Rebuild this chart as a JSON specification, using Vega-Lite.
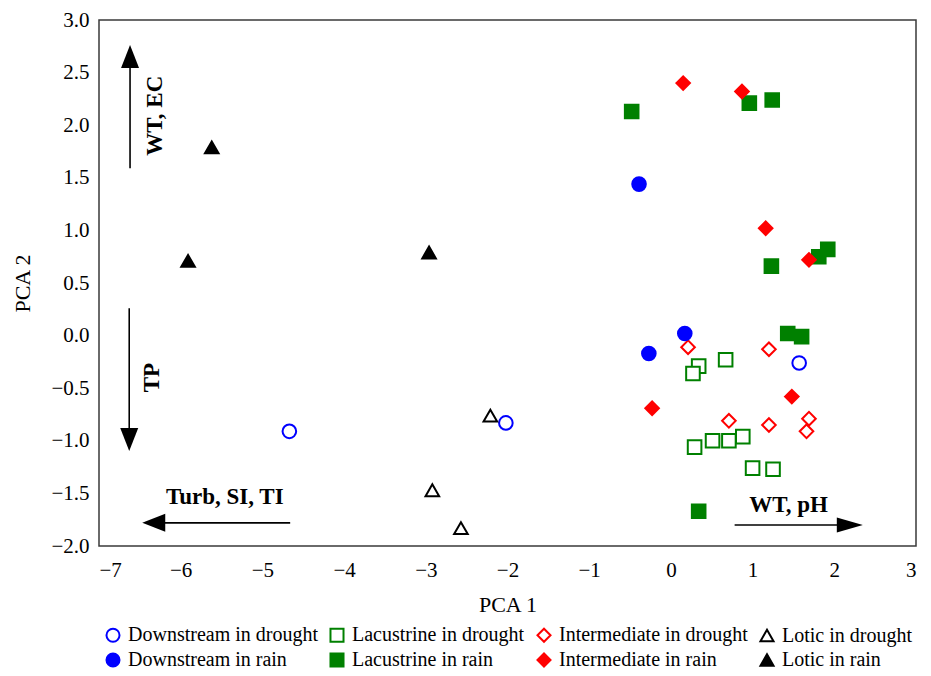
{
  "$schema": "https://vega.github.io/schema/vega-lite/v6.json",
  "width": 817,
  "height": 526,
  "autosize": {"type": "none"},
  "padding": {"left": 99, "top": 20, "right": 15, "bottom": 130},
  "background": "white",
  "config": {
    "font": "Liberation Serif",
    "view": {"stroke": "#3a3a3a", "strokeWidth": 1.5},
    "axis": {"grid": false, "ticks": false, "domain": false, "labelFont": "Liberation Serif", "labelFontSize": 21, "labelColor": "black", "titleFont": "Liberation Serif", "titleFontSize": 22, "titleFontWeight": "normal", "titleColor": "black"},
    "legend": {"orient": "bottom", "columns": 4, "labelFont": "Liberation Serif", "labelFontSize": 20, "labelColor": "black", "symbolSize": 170, "symbolStrokeWidth": 2, "columnPadding": 8, "rowPadding": 3, "labelOffset": 5, "offset": 10, "symbolOpacity": 1, "labelLimit": 400, "layout": {"bottom": {"anchor": "middle"}}}
  },
  "datasets": {
    "pts": [
      {"pc1": 1.57, "pc2": -0.26, "group": "Downstream in drought"},
      {"pc1": -4.67, "pc2": -0.91, "group": "Downstream in drought"},
      {"pc1": -2.02, "pc2": -0.83, "group": "Downstream in drought"},
      {"pc1": 0.34, "pc2": -0.29, "group": "Lacustrine in drought"},
      {"pc1": 0.27, "pc2": -0.36, "group": "Lacustrine in drought"},
      {"pc1": 0.67, "pc2": -0.23, "group": "Lacustrine in drought"},
      {"pc1": 0.29, "pc2": -1.06, "group": "Lacustrine in drought"},
      {"pc1": 0.51, "pc2": -1.00, "group": "Lacustrine in drought"},
      {"pc1": 0.71, "pc2": -1.00, "group": "Lacustrine in drought"},
      {"pc1": 0.88, "pc2": -0.96, "group": "Lacustrine in drought"},
      {"pc1": 1.00, "pc2": -1.26, "group": "Lacustrine in drought"},
      {"pc1": 1.25, "pc2": -1.27, "group": "Lacustrine in drought"},
      {"pc1": 0.21, "pc2": -0.11, "group": "Intermediate in drought"},
      {"pc1": 1.20, "pc2": -0.13, "group": "Intermediate in drought"},
      {"pc1": 0.71, "pc2": -0.81, "group": "Intermediate in drought"},
      {"pc1": 1.20, "pc2": -0.85, "group": "Intermediate in drought"},
      {"pc1": 1.69, "pc2": -0.79, "group": "Intermediate in drought"},
      {"pc1": 1.66, "pc2": -0.91, "group": "Intermediate in drought"},
      {"pc1": -2.21, "pc2": -0.76, "group": "Lotic in drought"},
      {"pc1": -2.92, "pc2": -1.47, "group": "Lotic in drought"},
      {"pc1": -2.57, "pc2": -1.83, "group": "Lotic in drought"},
      {"pc1": -0.39, "pc2": 1.44, "group": "Downstream in rain"},
      {"pc1": 0.17, "pc2": 0.02, "group": "Downstream in rain"},
      {"pc1": -0.27, "pc2": -0.17, "group": "Downstream in rain"},
      {"pc1": 0.96, "pc2": 2.21, "group": "Lacustrine in rain"},
      {"pc1": 1.24, "pc2": 2.24, "group": "Lacustrine in rain"},
      {"pc1": -0.48, "pc2": 2.13, "group": "Lacustrine in rain"},
      {"pc1": 1.23, "pc2": 0.66, "group": "Lacustrine in rain"},
      {"pc1": 1.81, "pc2": 0.75, "group": "Lacustrine in rain"},
      {"pc1": 1.92, "pc2": 0.82, "group": "Lacustrine in rain"},
      {"pc1": 1.43, "pc2": 0.02, "group": "Lacustrine in rain"},
      {"pc1": 1.60, "pc2": -0.01, "group": "Lacustrine in rain"},
      {"pc1": 0.34, "pc2": -1.67, "group": "Lacustrine in rain"},
      {"pc1": 0.15, "pc2": 2.40, "group": "Intermediate in rain"},
      {"pc1": 0.87, "pc2": 2.32, "group": "Intermediate in rain"},
      {"pc1": 1.16, "pc2": 1.02, "group": "Intermediate in rain"},
      {"pc1": 1.69, "pc2": 0.72, "group": "Intermediate in rain"},
      {"pc1": 1.48, "pc2": -0.58, "group": "Intermediate in rain"},
      {"pc1": -0.23, "pc2": -0.69, "group": "Intermediate in rain"},
      {"pc1": -5.62, "pc2": 1.79, "group": "Lotic in rain"},
      {"pc1": -5.91, "pc2": 0.71, "group": "Lotic in rain"},
      {"pc1": -2.96, "pc2": 0.79, "group": "Lotic in rain"}
    ],
    "ann": [
      {"label": "WT, EC", "dir": "up", "orient": "v", "x1": -6.62, "y1": 1.59, "x2": -6.62, "y2": 2.60, "hx": -6.62, "hy": 2.653, "tx": -6.31, "ty": 2.09},
      {"label": "TP", "dir": "down", "orient": "v", "x1": -6.63, "y1": 0.26, "x2": -6.63, "y2": -0.90, "hx": -6.63, "hy": -0.988, "tx": -6.35, "ty": -0.40},
      {"label": "Turb, SI, TI", "dir": "left", "orient": "h", "x1": -4.66, "y1": -1.78, "x2": -6.40, "y2": -1.78, "hx": -6.33, "hy": -1.78, "tx": -5.46, "ty": -1.53},
      {"label": "WT, pH", "dir": "right", "orient": "h", "x1": 0.78, "y1": -1.80, "x2": 2.10, "y2": -1.80, "hx": 2.19, "hy": -1.80, "tx": 1.44, "ty": -1.61}
    ]
  },
  "layer": [
    {
      "data": {"name": "pts"},
      "mark": {"type": "point", "strokeWidth": 2, "size": 185, "opacity": 1},
      "encoding": {
        "x": {"field": "pc1", "type": "quantitative", "scale": {"domain": [-7, 3], "nice": false, "zero": false}, "axis": {"values": [-7, -6, -5, -4, -3, -2, -1, 0, 1, 2, 3], "format": "d", "title": "PCA 1", "labelPadding": 13, "titlePadding": 14}},
        "y": {"field": "pc2", "type": "quantitative", "scale": {"domain": [-2, 3], "nice": false, "zero": false}, "axis": {"values": [-2, -1.5, -1, -0.5, 0, 0.5, 1, 1.5, 2, 2.5, 3], "format": ".1f", "title": "PCA 2", "labelPadding": 10, "titlePadding": 16}},
        "shape": {"field": "group", "type": "nominal", "scale": {"domain": ["Downstream in drought", "Lacustrine in drought", "Intermediate in drought", "Lotic in drought", "Downstream in rain", "Lacustrine in rain", "Intermediate in rain", "Lotic in rain"], "range": ["circle", "square", "diamond", "triangle-up", "circle", "square", "diamond", "triangle-up"]}, "legend": {"title": null}},
        "stroke": {"field": "group", "type": "nominal", "scale": {"domain": ["Downstream in drought", "Lacustrine in drought", "Intermediate in drought", "Lotic in drought", "Downstream in rain", "Lacustrine in rain", "Intermediate in rain", "Lotic in rain"], "range": ["#0000ff", "#008000", "#ff0000", "#000000", "#0000ff", "#008000", "#ff0000", "#000000"]}, "legend": {"title": null}},
        "fill": {"field": "group", "type": "nominal", "scale": {"domain": ["Downstream in drought", "Lacustrine in drought", "Intermediate in drought", "Lotic in drought", "Downstream in rain", "Lacustrine in rain", "Intermediate in rain", "Lotic in rain"], "range": ["#ffffff", "#ffffff", "#ffffff", "#ffffff", "#0000ff", "#008000", "#ff0000", "#000000"]}, "legend": {"title": null}}
      }
    },
    {
      "data": {"name": "ann"},
      "mark": {"type": "rule", "color": "black", "strokeWidth": 1.6},
      "encoding": {
        "x": {"field": "x1", "type": "quantitative"},
        "y": {"field": "y1", "type": "quantitative"},
        "x2": {"field": "x2"},
        "y2": {"field": "y2"}
      }
    },
    {
      "data": {"name": "ann"},
      "transform": [{"filter": "datum.dir == 'up'"}],
      "mark": {"type": "point", "shape": "M0,-1.15L0.9,1.15L-0.9,1.15Z", "filled": true, "color": "black", "opacity": 1, "size": 400, "angle": 0, "strokeWidth": 0},
      "encoding": {"x": {"field": "hx", "type": "quantitative"}, "y": {"field": "hy", "type": "quantitative"}}
    },
    {
      "data": {"name": "ann"},
      "transform": [{"filter": "datum.dir == 'down'"}],
      "mark": {"type": "point", "shape": "M0,-1.15L0.9,1.15L-0.9,1.15Z", "filled": true, "color": "black", "opacity": 1, "size": 400, "angle": 180, "strokeWidth": 0},
      "encoding": {"x": {"field": "hx", "type": "quantitative"}, "y": {"field": "hy", "type": "quantitative"}}
    },
    {
      "data": {"name": "ann"},
      "transform": [{"filter": "datum.dir == 'left'"}],
      "mark": {"type": "point", "shape": "M0,-1.15L0.9,1.15L-0.9,1.15Z", "filled": true, "color": "black", "opacity": 1, "size": 400, "angle": 270, "strokeWidth": 0},
      "encoding": {"x": {"field": "hx", "type": "quantitative"}, "y": {"field": "hy", "type": "quantitative"}}
    },
    {
      "data": {"name": "ann"},
      "transform": [{"filter": "datum.dir == 'right'"}],
      "mark": {"type": "point", "shape": "M0,-1.3L0.75,1.3L-0.75,1.3Z", "filled": true, "color": "black", "opacity": 1, "size": 400, "angle": 90, "strokeWidth": 0},
      "encoding": {"x": {"field": "hx", "type": "quantitative"}, "y": {"field": "hy", "type": "quantitative"}}
    },
    {
      "data": {"name": "ann"},
      "transform": [{"filter": "datum.orient == 'h'"}],
      "mark": {"type": "text", "font": "Liberation Serif", "fontWeight": "bold", "fontSize": 23, "color": "black", "align": "center", "baseline": "middle"},
      "encoding": {"x": {"field": "tx", "type": "quantitative"}, "y": {"field": "ty", "type": "quantitative"}, "text": {"field": "label"}}
    },
    {
      "data": {"name": "ann"},
      "transform": [{"filter": "datum.orient == 'v'"}],
      "mark": {"type": "text", "font": "Liberation Serif", "fontWeight": "bold", "fontSize": 23, "color": "black", "align": "center", "baseline": "middle", "angle": 270},
      "encoding": {"x": {"field": "tx", "type": "quantitative"}, "y": {"field": "ty", "type": "quantitative"}, "text": {"field": "label"}}
    }
  ]
}
